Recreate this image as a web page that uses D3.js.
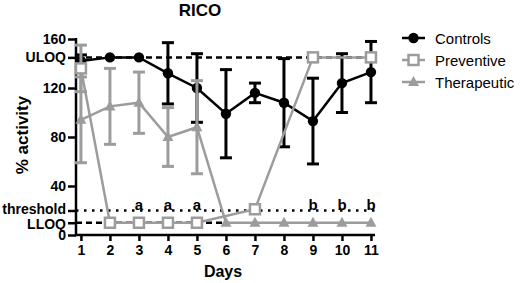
<!DOCTYPE html>
<html>
<head>
<meta charset="utf-8">
<script src="https://cdn.jsdelivr.net/npm/d3@7"></script>
<style>
  body { margin: 0; background: #fff; }
  svg { font-family: "Liberation Sans", Arial, sans-serif; }
</style>
</head>
<body>
<div id="chart"></div>
<script>
// Valeurs
const days = [1, 2, 3, 4, 5, 6, 7, 8, 9, 10, 11];
const controlsMean = [142, 145, 145, 132, 120, 99, 116, 108, 93, 124, 133];
const controlsSd = [5, 0, 0, 25, 28, 36, 8, 36, 35, 24, 25];
const preventiveMean = [136, 10, 10, 10, 10, null, 21, null, 145, null, 145];
const preventiveSd = [19, 0, 0, 0, 0, null, 0, null, 0, null, 0];
const therapeuticMean = [94, 105, 108, 80, 88, 10, 10, 10, 10, 10, 10];
const therapeuticSd = [35, 31, 25, 24, 38, 0, 0, 0, 0, 0, 0];

const yTicks = [0, 40, 80, 120, 160];
const refLabels = ["ULOQ", "threshold", "LLOQ"];
const refValues = [145, 20, 10];
const sigDays = [3, 4, 5, 9, 10, 11];
const sigLabels = ["a", "a", "a", "b", "b", "b"];
const seriesNames = ["Controls", "Preventive", "Therapeutic"];

const black = "#000";
const gray = "#9c9c9c";

const svg = d3.select("#chart").append("svg")
    .attr("width", 520)
    .attr("height", 283);

const x = d3.scaleLinear().domain([0.83, 11.07]).range([76, 373]);
const y = d3.scaleLinear().domain([0, 160]).range([235, 39]);

// Lignes de référence
const refDash = ["6,4", "2.5,5.5", "6,4"];
refValues.forEach((v, i) => {
    svg.append("line")
        .attr("x1", x.range()[0]).attr("x2", i === 2 ? x(6) : x.range()[1] + 2)
        .attr("y1", y(v)).attr("y2", y(v))
        .attr("stroke", black)
        .attr("stroke-width", 2.5)
        .attr("stroke-dasharray", refDash[i]);
});

// Axes
const yAxis = d3.axisLeft(y)
    .tickValues(yTicks.concat(refValues))
    .tickFormat(d => {
        const i = refValues.indexOf(d);
        return i >= 0 ? refLabels[i] : d;
    })
    .tickSize(8)
    .tickSizeOuter(0)
    .tickPadding(2);

const xAxis = d3.axisBottom(x)
    .tickValues(days)
    .tickFormat(d3.format("d"))
    .tickSize(6)
    .tickSizeOuter(0)
    .tickPadding(4);

const gy = svg.append("g")
    .attr("transform", `translate(${x.range()[0]},0)`)
    .call(yAxis);

const gx = svg.append("g")
    .attr("transform", `translate(0,${y(0)})`)
    .call(xAxis);

[gx, gy].forEach(g => {
    g.select(".domain").attr("stroke", black).attr("stroke-width", 2.5);
    g.selectAll(".tick line").attr("stroke", black).attr("stroke-width", 2.5);
    g.selectAll("text")
        .attr("fill", black)
        .style("font-size", "14px")
        .style("font-weight", "bold")
        .style("font-family", "\"Liberation Sans\", Arial, sans-serif");
});
gy.select(".domain").attr("d", `M0,${y(0) + 1}V${y(160) - 1}`);
gx.select(".domain").attr("d", `M${x.range()[0] - 1},0H${x.range()[1] + 2}`);

// "threshold" et "LLOQ" sont très proches : on les écarte un peu
gy.selectAll(".tick text")
    .attr("dy", d => d === refValues[1] ? "0.2em" : d === refValues[2] ? "0.42em" : "0.32em");

// Séries
function drawSeries(mean, sd, color, marker) {
    const pts = days.map((d, i) => ({day: d, m: mean[i], s: sd[i]}))
        .filter(p => p.m !== null);
    const g = svg.append("g");

    // barres d'erreur
    pts.filter(p => p.s > 0).forEach(p => {
        const cx = x(p.day);
        g.append("line")
            .attr("x1", cx).attr("x2", cx)
            .attr("y1", y(p.m - p.s)).attr("y2", y(p.m + p.s))
            .attr("stroke", color).attr("stroke-width", 3);
        [p.m - p.s, p.m + p.s].forEach(v => {
            g.append("line")
                .attr("x1", cx - 6).attr("x2", cx + 6)
                .attr("y1", y(v)).attr("y2", y(v))
                .attr("stroke", color).attr("stroke-width", 3);
        });
    });

    g.append("path")
        .datum(pts)
        .attr("fill", "none")
        .attr("stroke", color)
        .attr("stroke-width", 2.5)
        .attr("d", d3.line().x(p => x(p.day)).y(p => y(p.m)));

    pts.forEach(p => drawMarker(g, marker, x(p.day), y(p.m), color));
}

function drawMarker(g, marker, cx, cy, color) {
    if (marker === "circle") {
        g.append("circle").attr("cx", cx).attr("cy", cy).attr("r", 5.2).attr("fill", color);
    } else if (marker === "square") {
        g.append("rect")
            .attr("x", cx - 5).attr("y", cy - 5)
            .attr("width", 10).attr("height", 10)
            .attr("fill", "#fff").attr("stroke", color).attr("stroke-width", 2.5);
    } else {
        g.append("path")
            .attr("d", `M${cx},${cy - 6}L${cx + 5.5},${cy + 4}L${cx - 5.5},${cy + 4}Z`)
            .attr("fill", color);
    }
}

drawSeries(controlsMean, controlsSd, black, "circle");
drawSeries(therapeuticMean, therapeuticSd, gray, "triangle");
drawSeries(preventiveMean, preventiveSd, gray, "square");

// Lettres de significativité
svg.selectAll(".sig")
    .data(sigDays)
    .enter().append("text")
    .attr("class", "sig")
    .attr("x", d => x(d))
    .attr("y", y(refValues[1]) - 1)
    .attr("text-anchor", "middle")
    .style("font-size", "15px")
    .style("font-weight", "bold")
    .text((d, i) => sigLabels[i]);

// Titres
svg.append("text")
    .attr("x", 200).attr("y", 16)
    .attr("text-anchor", "middle")
    .style("font-size", "17px").style("font-weight", "bold")
    .text("RICO");

svg.append("text")
    .attr("x", 223).attr("y", 277)
    .attr("text-anchor", "middle")
    .style("font-size", "16px").style("font-weight", "bold")
    .text("Days");

svg.append("text")
    .attr("transform", "translate(28,135) rotate(-90)")
    .attr("text-anchor", "middle")
    .style("font-size", "17px").style("font-weight", "bold")
    .text("% activity");

// Légende
const legendColors = [black, gray, gray];
const legendMarkers = ["circle", "square", "triangle"];
const legend = svg.append("g");
seriesNames.forEach((name, i) => {
    const ly = 38 + i * 22;
    legend.append("line")
        .attr("x1", 402).attr("x2", 425)
        .attr("y1", ly).attr("y2", ly)
        .attr("stroke", legendColors[i]).attr("stroke-width", 2.5);
    drawMarker(legend, legendMarkers[i], 413.5, ly, legendColors[i]);
    legend.append("text")
        .attr("x", 435).attr("y", ly + 5.5)
        .style("font-size", "15px")
        .text(name);
});
</script>
</body>
</html>
